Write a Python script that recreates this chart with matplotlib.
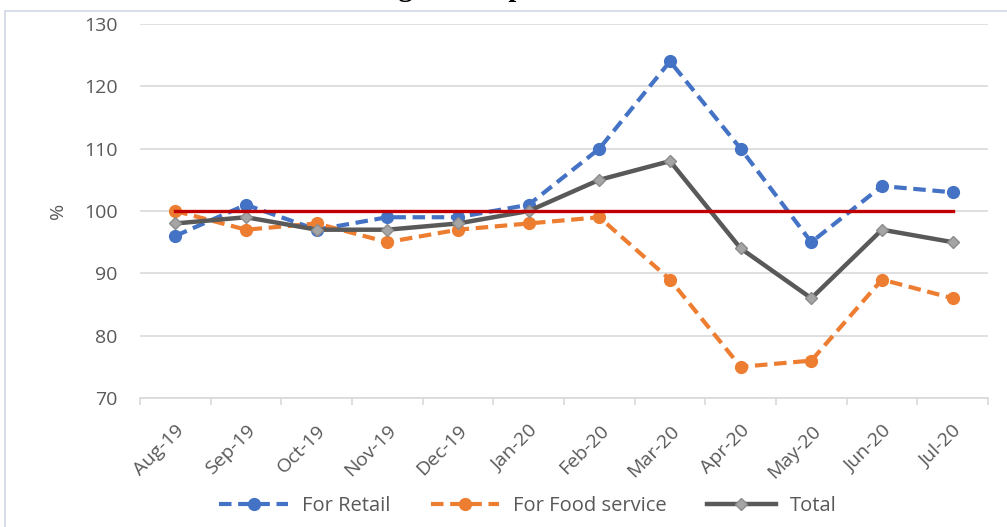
import matplotlib
matplotlib.use("Agg")
import matplotlib.pyplot as plt
from matplotlib.patches import Rectangle
import numpy as np

months = ["Aug-19", "Sep-19", "Oct-19", "Nov-19", "Dec-19", "Jan-20",
          "Feb-20", "Mar-20", "Apr-20", "May-20", "Jun-20", "Jul-20"]
retail = [96, 101, 97, 99, 99, 101, 110, 124, 110, 95, 104, 103]
food_service = [100, 97, 98, 95, 97, 98, 99, 89, 75, 76, 89, 86]
total = [98, 99, 97, 97, 98, 100, 105, 108, 94, 86, 97, 95]
reference = [100] * len(months)
y_ticks = [70, 80, 90, 100, 110, 120, 130]

W, H = 1007, 527
fig = plt.figure(figsize=(W / 100, H / 100), dpi=100)
plt.rcParams['font.family'] = ['Open Sans', 'DejaVu Sans']

# outer chart border
fig.patches.append(Rectangle((5 / W, -0.1), 1.2, 1.1 - 11 / H, transform=fig.transFigure,
                             fill=False, edgecolor="#D0D8E6", linewidth=1.2))
# title, mostly cut off by the top edge (only descenders visible)
fig.text(332 / W, 1 + 3.5 / H, "Change in the purchases", ha='left', va='baseline',
         fontsize=20.5, fontweight='bold', family=['Liberation Serif', 'DejaVu Serif'],
         color='black')

ax = fig.add_axes([140 / W, 1 - 398 / H, (988 - 140) / W, (398 - 24) / H])
x = np.arange(len(months))

ax.plot(x, retail, color="#4472C4", linestyle=(0, (3.0, 1.6)), linewidth=3.0,
        marker='o', markersize=8.5, label="For Retail", zorder=3)
ax.plot(x, food_service, color="#ED7D31", linestyle=(0, (3.0, 1.6)), linewidth=3.0,
        marker='o', markersize=8.5, label="For Food service", zorder=3)
ax.plot(x, total, color="#595959", linewidth=3.2, marker='D', markersize=6,
        markerfacecolor="#A5A5A5", markeredgecolor="#8C8C8C", markeredgewidth=1,
        label="Total", zorder=4)
ax.plot(x, reference, color="#C00000", linewidth=2.4, zorder=5)

ax.set_xlim(-0.5, len(months) - 0.5)
ax.set_ylim(70, 130)
ax.set_yticks(y_ticks)
ax.set_yticklabels([str(v) for v in y_ticks], fontsize=14, color="#595959")
ax.grid(axis='y', color="#D9D9D9", linewidth=1.2)
ax.set_axisbelow(True)
for s in ['top', 'right', 'left']:
    ax.spines[s].set_visible(False)
ax.spines['bottom'].set_color("#D9D9D9")
ax.spines['bottom'].set_linewidth(1.2)
ax.tick_params(axis='y', length=0, pad=16)

ax.set_xticks(x)
ax.set_xticklabels(months, rotation=45, ha='right', rotation_mode='anchor',
                   fontsize=14, color="#595959")
ax.tick_params(axis='x', length=0, pad=17)
ax.set_xticks(np.arange(-0.5, len(months), 1), minor=True)
ax.tick_params(axis='x', which='minor', length=5, color="#D9D9D9", width=1.2)

ax.set_ylabel("%", fontsize=14, color="#595959", labelpad=12)

leg = ax.legend(loc='center', bbox_to_anchor=((528 - 140) / (988 - 140), (398 - 506) / (398 - 24)),
                ncol=3, frameon=False, fontsize=14.5, handlelength=3.4,
                columnspacing=2.0, handletextpad=0.7)
for t in leg.get_texts():
    t.set_color("#595959")

fig.savefig("out.png", dpi=100)
